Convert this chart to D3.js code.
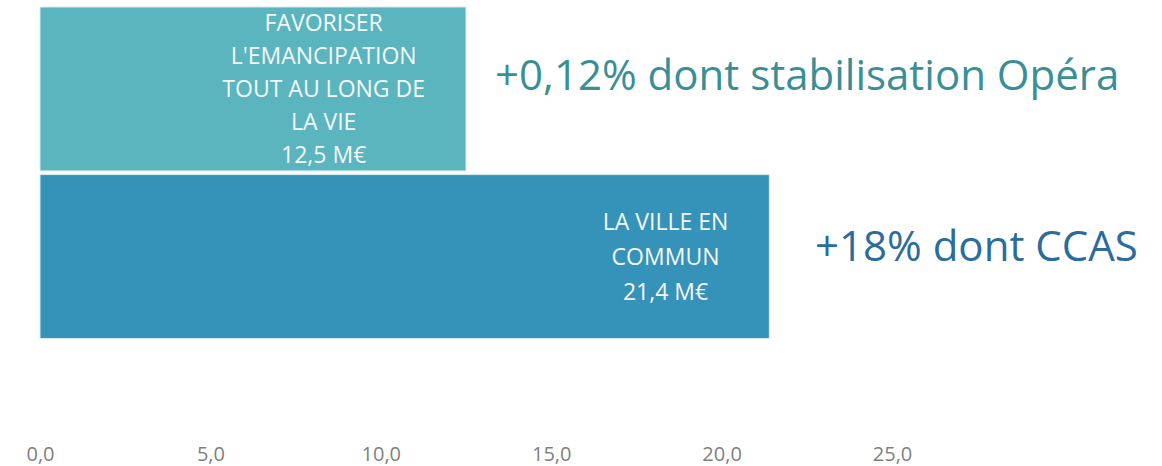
<!DOCTYPE html>
<html><head><meta charset="utf-8">
<script src="https://cdn.jsdelivr.net/npm/d3@7"></script>
<style>body{margin:0;background:#fff}svg{display:block}</style>
</head><body>
<svg id="c" width="1162" height="466"></svg>
<script>
const categories = ["FAVORISER L'EMANCIPATION TOUT AU LONG DE LA VIE", "LA VILLE EN COMMUN"];
const values = [12.5, 21.4];
const labelLines = [["FAVORISER", "L'EMANCIPATION", "TOUT AU LONG DE", "LA VIE", "12,5 M€"], ["LA VILLE EN", "COMMUN", "21,4 M€"]];
const annotations = ["+0,12% dont stabilisation Opéra", "+18% dont CCAS"];
const barColors = ["#5ab5bf", "#3592b9"];
const annColors = ["#3a8f97", "#2b6c9c"];
const tickValues = [0, 5, 10, 15, 20, 25];

const svg = d3.select("#c");
const font = "'Open Sans', sans-serif";
const x = d3.scaleLinear().domain([0, 25]).range([40, 892]);
const y = d3.scaleBand().domain(categories).range([7, 338.5]).paddingInner(0.022).paddingOuter(0);

svg.selectAll("rect.bar").data(categories).join("rect")
  .attr("class", "bar")
  .attr("x", x(0)).attr("y", d => y(d))
  .attr("width", (d, i) => x(values[i]) - x(0))
  .attr("height", y.bandwidth())
  .attr("fill", (d, i) => barColors[i])
  .attr("stroke", "#d6ecef").attr("stroke-width", 1);

const lh = [33, 35];
categories.forEach((c, i) => {
  const g = svg.append("g");
  const t = g.append("text").attr("font-family", font).attr("font-size", 23)
    .attr("fill", "#f4f8f9").attr("text-anchor", "middle");
  const lines = labelLines[i];
  lines.forEach((l, k) => {
    t.append("tspan").attr("x", 0).attr("y", (k - (lines.length - 1) / 2) * lh[i]).attr("dy", "0.35em").text(l);
  });
  const w = t.node().getBBox().width;
  const cx = x(values[i]) - 41 - w / 2;
  const cy = y(c) + y.bandwidth() / 2;
  g.attr("transform", `translate(${cx},${cy})`);
});

const annPos = [[495, 90], [815, 261]];
annotations.forEach((a, i) => {
  svg.append("text").attr("x", annPos[i][0]).attr("y", annPos[i][1])
    .attr("font-family", font).attr("font-size", 42)
    .attr("fill", annColors[i]).text(a);
});

const axis = d3.axisBottom(x).tickValues(tickValues).tickSize(0).tickPadding(0)
  .tickFormat(d => d3.format(".1f")(d).replace(".", ","));
const ax = svg.append("g").attr("transform", "translate(0,447)").call(axis);
ax.select(".domain").remove();
ax.selectAll("text").attr("font-family", font).attr("font-size", 20).attr("fill", "#7f7f7f");
</script>
</body></html>
